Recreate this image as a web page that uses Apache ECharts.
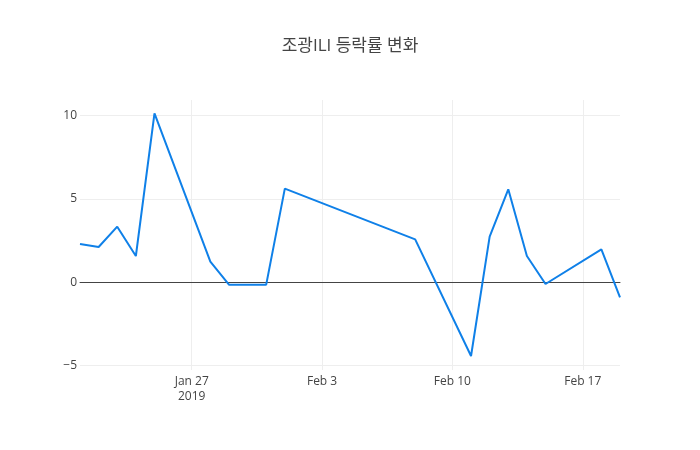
<!DOCTYPE html>
<html>
<head>
<meta charset="utf-8">
<script src="https://cdn.jsdelivr.net/npm/echarts@6/dist/echarts.min.js"></script>
<style>
  html, body { margin: 0; padding: 0; background: #fff; }
  #chart { width: 700px; height: 450px; }
</style>
</head>
<body>
<div id="chart"></div>
<script>
// 거래일 / 등락률
const dates = ['2019-01-21', '2019-01-22', '2019-01-23', '2019-01-24', '2019-01-25',
  '2019-01-28', '2019-01-29', '2019-01-31', '2019-02-01', '2019-02-08',
  '2019-02-11', '2019-02-12', '2019-02-13', '2019-02-14', '2019-02-15',
  '2019-02-18', '2019-02-19'];
const rates = [2.3, 2.12, 3.34, 1.58, 10.14,
  1.24, -0.14, -0.14, 5.62, 2.58,
  -4.42, 2.74, 5.58, 1.58, -0.1,
  1.98, -0.9];
const xTicks = ['2019-01-27', '2019-02-03', '2019-02-10', '2019-02-17'];
const yTicks = [-5, 0, 5, 10];

const months = ['Jan', 'Feb', 'Mar', 'Apr', 'May', 'Jun', 'Jul', 'Aug', 'Sep', 'Oct', 'Nov', 'Dec'];
const ts = (s) => new Date(s).getTime();
const font = '"Open Sans", "Noto Sans CJK KR", sans-serif';

const chart = echarts.init(document.getElementById('chart'));
const tickVals = xTicks.map(ts);

chart.setOption({
  animation: false,
  title: {
    text: '조광ILI 등락률 변화',
    left: 'center',
    top: 33,
    textStyle: { fontFamily: font, fontSize: 17, fontWeight: 'normal', color: '#444' }
  },
  grid: { left: 80, right: 80, top: 100, bottom: 80 },
  xAxis: {
    type: 'value',
    min: ts(dates[0]),
    max: ts(dates[dates.length - 1]),
    axisLine: { onZero: true, lineStyle: { color: '#444', width: 1 } },
    axisTick: { show: false, customValues: tickVals },
    splitLine: { show: true, lineStyle: { color: '#eee', width: 1 } },
    axisLabel: {
      customValues: tickVals,
      margin: 4,
      fontFamily: font,
      fontSize: 12,
      lineHeight: 15,
      color: '#444',
      formatter: (v) => {
        const d = new Date(v);
        let s = months[d.getUTCMonth()] + ' ' + d.getUTCDate();
        if (v === tickVals[0]) s += '\n' + d.getUTCFullYear();
        return s;
      }
    }
  },
  yAxis: {
    type: 'value',
    min: -5.26,
    max: 10.94,
    axisLine: { show: false },
    axisTick: { show: false, customValues: yTicks },
    splitLine: { show: true, lineStyle: { color: '#eee', width: 1 } },
    axisLabel: {
      customValues: yTicks,
      margin: 3,
      fontFamily: font,
      fontSize: 12,
      color: '#444',
      formatter: (v) => String(v).replace('-', '\u2212')
    }
  },
  series: [{
    type: 'line',
    data: dates.map((d, i) => [ts(d), rates[i]]),
    showSymbol: false,
    lineStyle: { color: '#0f80e8', width: 2 },
    itemStyle: { color: '#0f80e8' }
  }]
});
</script>
</body>
</html>
